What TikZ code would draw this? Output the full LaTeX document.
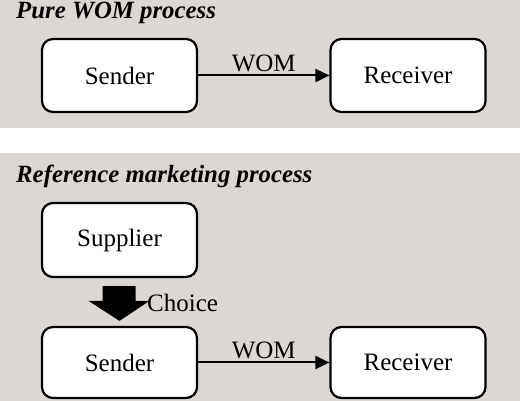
\documentclass[tikz,border=0pt]{standalone}
\usepackage{fontspec}
\setmainfont{Liberation Serif}
\usetikzlibrary{arrows.meta}
\definecolor{panelgrey}{HTML}{DDD7D4}
\tikzset{
	party/.style={draw,line width=2.2pt,rounded corners=11pt,fill=white,
		minimum width=155pt,minimum height=73pt,font=\fontsize{25}{28}\selectfont},
	title/.style={anchor=base west,inner sep=0pt,font=\fontsize{24.8}{28}\selectfont\bfseries\itshape},
	flow/.style={line width=2pt,-{Triangle[length=14pt,width=13pt]}},
	flowlabel/.style={above,inner sep=3pt,font=\fontsize{25}{28}\selectfont}
}
\begin{document}
\begin{tikzpicture}[x=1pt,y=1pt]
			\useasboundingbox (0,0) rectangle (520,401);
			% panels
			\fill[panelgrey] (0,273) rectangle (520,401);
			\fill[panelgrey] (0,0) rectangle (520,248);

			% pure WOM process
			\node[title] (puretitle) at (16,382) {Pure WOM process};
			\node[party] (sendera) at (119.5,325.5) {Sender};
			\node[party] (receivera) at (408,325.5) {Receiver};
			\draw[flow] (sendera) -- node[flowlabel]{WOM} (receivera);

			% reference marketing process
			\node[title] (reftitle) at (16,218) {Reference marketing process};
			\node[party,minimum height=74pt] (supplier) at (119.5,161) {Supplier};
			\node[party,minimum height=71pt] (senderb) at (119.5,38.5) {Sender};
			\node[party,minimum height=71pt] (receiverb) at (408,38.5) {Receiver};
			\draw[flow] (senderb) -- node[flowlabel]{WOM} (receiverb);

			% block arrow for the choice
			\coordinate (choicetop) at ([yshift=-8pt]supplier.south);
			\coordinate (choicetip) at ([yshift=5pt]senderb.north);
			\fill ([xshift=-17pt]choicetop) -- ([xshift=16pt]choicetop)
				-- ([xshift=16pt,yshift=20pt]choicetip) -- ([xshift=30pt,yshift=20pt]choicetip)
				-- (choicetip) -- ([xshift=-31pt,yshift=20pt]choicetip)
				-- ([xshift=-17pt,yshift=20pt]choicetip) -- cycle;
			\node[anchor=west,inner sep=0pt,font=\fontsize{25}{28}\selectfont] (choice) at (147,98) {Choice};
		\end{tikzpicture}
\end{document}
